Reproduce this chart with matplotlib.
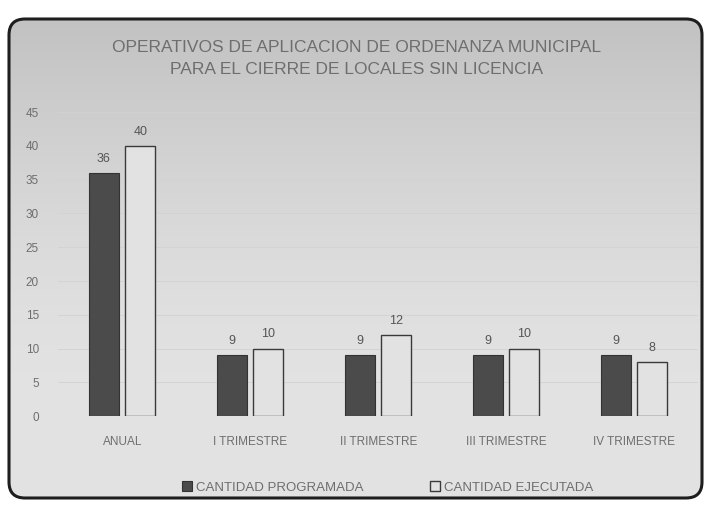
"""
Bar chart: operativos de aplicacion de ordenanza municipal
"""

import numpy as np
import matplotlib.pyplot as plt
from matplotlib.patches import FancyBboxPatch

plt.rcParams['font.family'] = ['Liberation Sans Narrow', 'Liberation Sans', 'DejaVu Sans']

# data
categories = ['ANUAL', 'I TRIMESTRE', 'II TRIMESTRE', 'III TRIMESTRE', 'IV TRIMESTRE']
programada = [36, 9, 9, 9, 9]
ejecutada = [40, 10, 12, 10, 8]
series_names = ['CANTIDAD PROGRAMADA', 'CANTIDAD EJECUTADA']
yticks = list(range(0, 50, 5))

TEXT = '#6e6e6e'


def plot():
    fig = plt.figure(figsize=(7.11, 5.05), dpi=100)
    fig.patch.set_facecolor('white')

    # background panel with rounded border and gray gradient
    bg = fig.add_axes([0, 0, 1, 1], zorder=0)
    bg.set_xlim(0, 711)
    bg.set_ylim(505, 0)
    bg.axis('off')
    grad = np.linspace(0, 1, 256).reshape(-1, 1)
    shade = 0.76 + 0.13 * np.sin(np.clip(grad * 1.8, 0, np.pi / 2))
    img = bg.imshow(np.dstack([shade] * 3), extent=[8, 703, 500, 18],
                    aspect='auto', zorder=1)
    box = FancyBboxPatch((9, 19), 693, 479, boxstyle='round,pad=0,rounding_size=16',
                         facecolor='none', edgecolor='#1e1e1e', linewidth=2.2, zorder=3)
    bg.add_patch(box)
    img.set_clip_path(box)

    ax = fig.add_axes([0.082, 0.176, 0.900, 0.602], zorder=2)
    ax.patch.set_alpha(0)
    x = np.arange(len(categories))
    w = 0.235
    b1 = ax.bar(x - 0.285, programada, w, color='#4b4b4b', edgecolor='#333333',
                linewidth=0.8, label=series_names[0], zorder=3)
    b2 = ax.bar(x + 0.0, ejecutada, w, color='#e2e2e2', edgecolor='#3a3a3a',
                linewidth=1.0, label=series_names[1], zorder=3)
    for bars in (b1, b2):
        for r in bars:
            ax.text(r.get_x() + r.get_width() / 2, r.get_height() + 1.2,
                    str(int(r.get_height())), ha='center', va='bottom',
                    fontsize=9, color='#555555')

    ax.set_xlim(-0.64, len(categories) - 0.64)
    ax.set_ylim(0, 45)
    ax.set_yticks(yticks)
    ax.set_xticks(x - 0.14)
    ax.set_xticklabels(categories)
    ax.tick_params(axis='both', length=0, labelsize=8.5, colors=TEXT)
    ax.tick_params(axis='y', pad=14)
    ax.tick_params(axis='x', pad=14)
    ax.grid(axis='y', color='#d2d2d2', linewidth=0.6, zorder=0)
    for s in ax.spines.values():
        s.set_visible(False)

    fig.text(0.502, 0.884, 'OPERATIVOS DE APLICACION DE ORDENANZA MUNICIPAL\n'
             'PARA EL CIERRE DE LOCALES SIN LICENCIA', ha='center', va='center',
             fontsize=12.5, color=TEXT, linespacing=1.6)

    leg = fig.legend(handles=[b1, b2], loc='center', bbox_to_anchor=(0.545, 0.035),
                     ncol=2, frameon=False, fontsize=9.5, handlelength=0.8,
                     handleheight=0.8, columnspacing=5, handletextpad=0.3)
    for t in leg.get_texts():
        t.set_color(TEXT)

    fig.savefig('out.png', dpi=100)


if __name__ == "__main__":
    plot()
